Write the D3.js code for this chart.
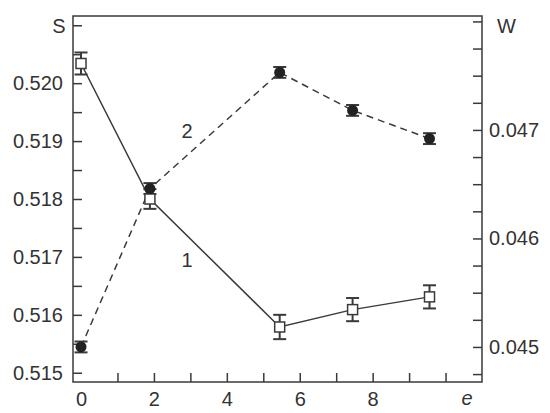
<!DOCTYPE html>
<html>
<head>
<meta charset="utf-8">
<script src="https://cdn.jsdelivr.net/npm/d3@7"></script>
<style>
  body { margin: 0; background: #fff; }
  text { font-family: "Liberation Sans", Arial, sans-serif; fill: #333; }
</style>
</head>
<body>
<script>
// series 1: S (open squares, solid line, left axis)
const eS = [0, 1.89, 5.45, 7.45, 9.56];
const sVal = [0.52034, 0.51800, 0.51579, 0.51609, 0.51631];
const sErr = [0.00019, 0.00017, 0.00021, 0.00020, 0.00020];
// series 2: W (filled circles, dashed line, right axis)
const eW = [0, 1.89, 5.45, 7.45, 9.56];
const wVal = [0.04500, 0.04646, 0.04753, 0.04718, 0.04692];
const wErr = [0.00005, 0.00005, 0.00005, 0.00005, 0.00005];

const xTicks = [0, 2, 4, 6, 8];
const sTicks = [0.515, 0.516, 0.517, 0.518, 0.519, 0.520];
const wTicks = [0.045, 0.046, 0.047];

const W = 550, H = 413;
const mLeft = 73, mRight = 482, mTop = 16, mBottom = 382;
const ink = "#3a3a3a";

const svg = d3.select("body").append("svg")
    .attr("width", W).attr("height", H);

const x = d3.scaleLinear().domain([-0.22, 11]).range([mLeft, mRight]);
const yS = d3.scaleLinear().domain([0.51484, 0.52116]).range([mBottom, mTop]);
const yW = d3.scaleLinear().domain([0.044677, 0.04805]).range([mBottom, mTop]);

// frame
svg.append("rect")
    .attr("x", mLeft).attr("y", mTop)
    .attr("width", mRight - mLeft).attr("height", mBottom - mTop)
    .attr("fill", "none").attr("stroke", ink).attr("stroke-width", 1.5);

const tickLen = 9;
function addAxis(axis, tx, ty) {
  const g = svg.append("g").attr("transform", `translate(${tx},${ty})`).call(axis);
  g.select(".domain").remove();
  g.selectAll("line").attr("stroke", ink).attr("stroke-width", 1.5);
  g.selectAll("text").attr("font-size", 20).attr("fill", "#333")
      .style("font-family", '"Liberation Sans", Arial, sans-serif');
  return g;
}

// bottom axis: major labelled, minor every 1
addAxis(d3.axisTop(x).tickValues(d3.range(1, 11, 1)).tickSize(tickLen).tickFormat(""), 0, mBottom);
addAxis(d3.axisBottom(x).tickValues(xTicks).tickSize(0).tickPadding(10).tickFormat(d3.format("d")), 0, mBottom);

// left axis
addAxis(d3.axisRight(yS).tickValues(d3.range(0.515, 0.52101, 0.0005)).tickSize(tickLen).tickFormat(""), mLeft, 0);
addAxis(d3.axisLeft(yS).tickValues(sTicks).tickSize(0).tickPadding(10).tickFormat(d3.format(".3f")), mLeft, 0);

// right axis
addAxis(d3.axisLeft(yW).tickValues(d3.range(0.04475, 0.04801, 0.00025)).tickSize(tickLen).tickFormat(""), mRight, 0);
addAxis(d3.axisRight(yW).tickValues(wTicks).tickSize(0).tickPadding(7).tickFormat(d3.format(".3f")), mRight, 0);

// axis titles
svg.append("text").attr("x", 59).attr("y", 33).attr("text-anchor", "middle")
    .attr("font-size", 20).text("S");
svg.append("text").attr("x", 497).attr("y", 33)
    .attr("font-size", 20).text("W");
svg.append("text").attr("x", 467).attr("y", 405).attr("text-anchor", "middle")
    .attr("font-size", 20).attr("font-style", "italic").text("e");

// series lines
const sData = eS.map((e, i) => ({e, v: sVal[i], err: sErr[i]}));
const wData = eW.map((e, i) => ({e, v: wVal[i], err: wErr[i]}));

svg.append("path").datum(sData)
    .attr("d", d3.line().x(d => x(d.e)).y(d => yS(d.v)))
    .attr("fill", "none").attr("stroke", ink).attr("stroke-width", 1.5);
svg.append("path").datum(wData)
    .attr("d", d3.line().x(d => x(d.e)).y(d => yW(d.v)))
    .attr("fill", "none").attr("stroke", ink).attr("stroke-width", 1.5)
    .attr("stroke-dasharray", "7,5");

// error bars
function errBars(data, y, cap) {
  const g = svg.append("g").attr("stroke", ink).attr("stroke-width", 2);
  data.forEach(d => {
    const cx = x(d.e), y0 = y(d.v - d.err), y1 = y(d.v + d.err);
    g.append("line").attr("x1", cx).attr("x2", cx).attr("y1", y0).attr("y2", y1);
    g.append("line").attr("x1", cx - cap).attr("x2", cx + cap).attr("y1", y0).attr("y2", y0);
    g.append("line").attr("x1", cx - cap).attr("x2", cx + cap).attr("y1", y1).attr("y2", y1);
  });
}
errBars(sData, yS, 6.5);
errBars(wData, yW, 6.5);

// markers
svg.selectAll(".sq").data(sData).enter().append("rect")
    .attr("x", d => x(d.e) - 5).attr("y", d => yS(d.v) - 5)
    .attr("width", 10).attr("height", 10)
    .attr("fill", "#fff").attr("stroke", ink).attr("stroke-width", 1.5);
svg.selectAll(".dot").data(wData).enter().append("circle")
    .attr("cx", d => x(d.e)).attr("cy", d => yW(d.v)).attr("r", 5.5)
    .attr("fill", "#222");

// curve labels
svg.append("text").attr("x", 187).attr("y", 267).attr("text-anchor", "middle")
    .attr("font-size", 20).text("1");
svg.append("text").attr("x", 187).attr("y", 138).attr("text-anchor", "middle")
    .attr("font-size", 20).text("2");
</script>
</body>
</html>
